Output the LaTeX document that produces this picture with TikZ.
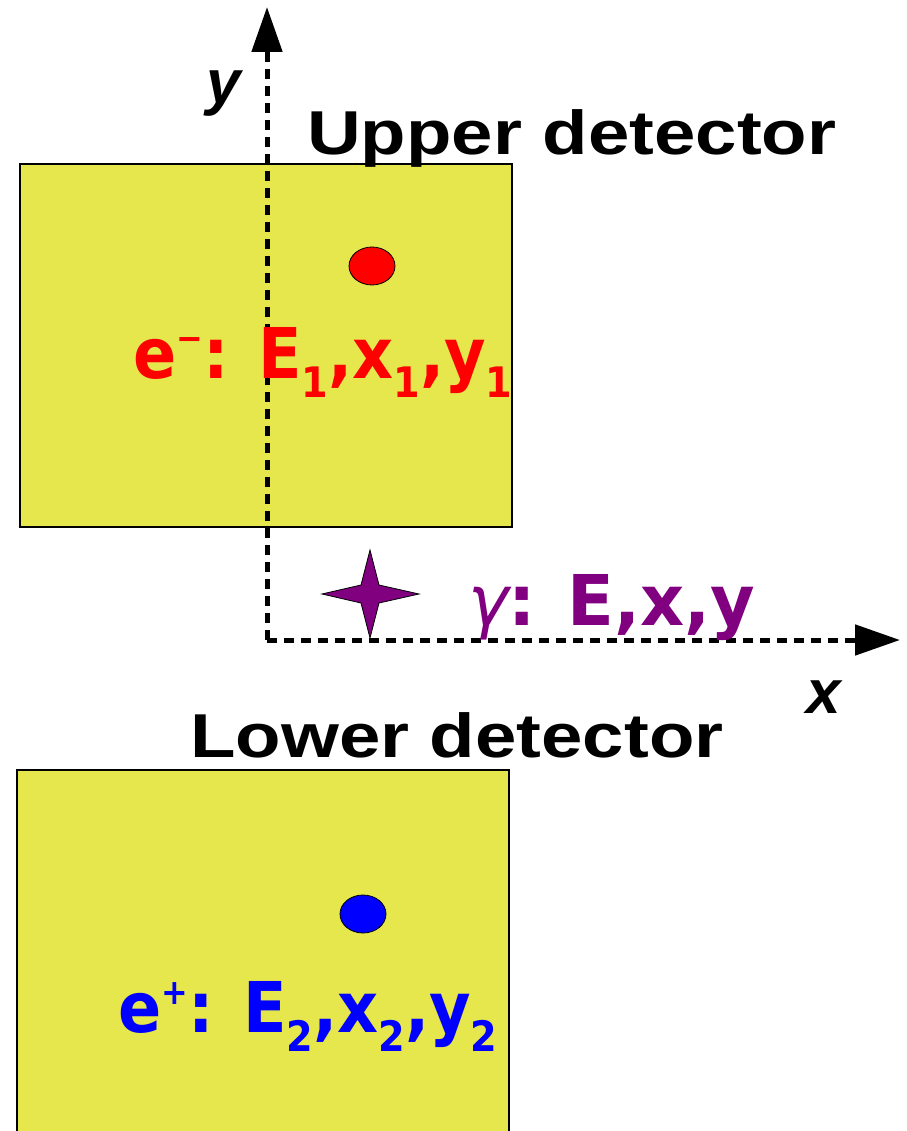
\documentclass[tikz,border=0pt]{standalone}
\usepackage{fontspec}
\setmainfont{Liberation Sans}
\newfontfamily\comicfont{DejaVu Sans}
\usetikzlibrary{arrows.meta}
\definecolor{detyellow}{RGB}{230,230,77}
\definecolor{gpurple}{RGB}{128,0,128}
\newcommand\lsub[1]{\raisebox{-0.28em}{\scalebox{0.6}{#1}}}
\newcommand\lsup[1]{\raisebox{0.4em}{\scalebox{0.5}{#1}}}
\tikzset{
  detector/.style={draw=black, line width=1.5pt, fill=detyellow},
  hitdot/.style={draw=black, line width=0.8pt},
  axisline/.style={line width=5pt, dash pattern=on 10pt off 7pt, -{Triangle[length=45pt,width=30pt]}},
  title/.style={font=\fontsize{62}{70}\selectfont\bfseries, anchor=base west, inner sep=0pt, xscale=1.2},
  axlabel/.style={font=\fontsize{62}{70}\selectfont\bfseries\itshape, anchor=base west, inner sep=0pt},
  hitlabel/.style={font=\comicfont\bfseries\fontsize{70}{80}\selectfont, anchor=base west, inner sep=0pt, xscale=0.91},
}
\begin{document}
\begin{tikzpicture}[x=1pt,y=-1pt]
\useasboundingbox (0,0) rectangle (906,1131);
% detectors
\path[detector] (20,164) rectangle (512,527);
\path[detector] (17,770) rectangle (509,1135);
% axes
\coordinate (O) at (267,640);
\coordinate (ytip) at (267,7);
\coordinate (xtip) at (900,640);
\draw[axisline] (O) -- (ytip);
\draw[axisline] (O) -- (xtip);
% hits
\path[hitdot, fill=red] (372,266) ellipse [x radius=23, y radius=19];
\path[hitdot, fill=blue] (363,914) ellipse [x radius=23, y radius=19];
% star
\path[draw=black, line width=0.8pt, fill=gpurple]
  (370,550) -- (379,585) -- (419,594) -- (379,603) -- (370,638) -- (361,603) -- (322,594) -- (361,585) -- cycle;
% titles
\node[title] (up) at (307,155) {Upper detector};
\node[title] (low) at (190,757) {Lower detector};
\node[axlabel] (ylab) at (206,104) {y};
\node[axlabel] (xlab) at (806,713) {x};
% hit labels
\node[hitlabel, text=red] (elab) at (133,378) {e\lsup{−}: E\lsub{1},x\lsub{1},y\lsub{1}};
\node[hitlabel, text=blue] (plab) at (118,1032) {e\lsup{+}: E\lsub{2},x\lsub{2},y\lsub{2}};
\node[hitlabel, text=gpurple, xscale=1.075] (glab) at (468,625) {{\mdseries\itshape γ}: E,x,y};
\end{tikzpicture}
\end{document}
